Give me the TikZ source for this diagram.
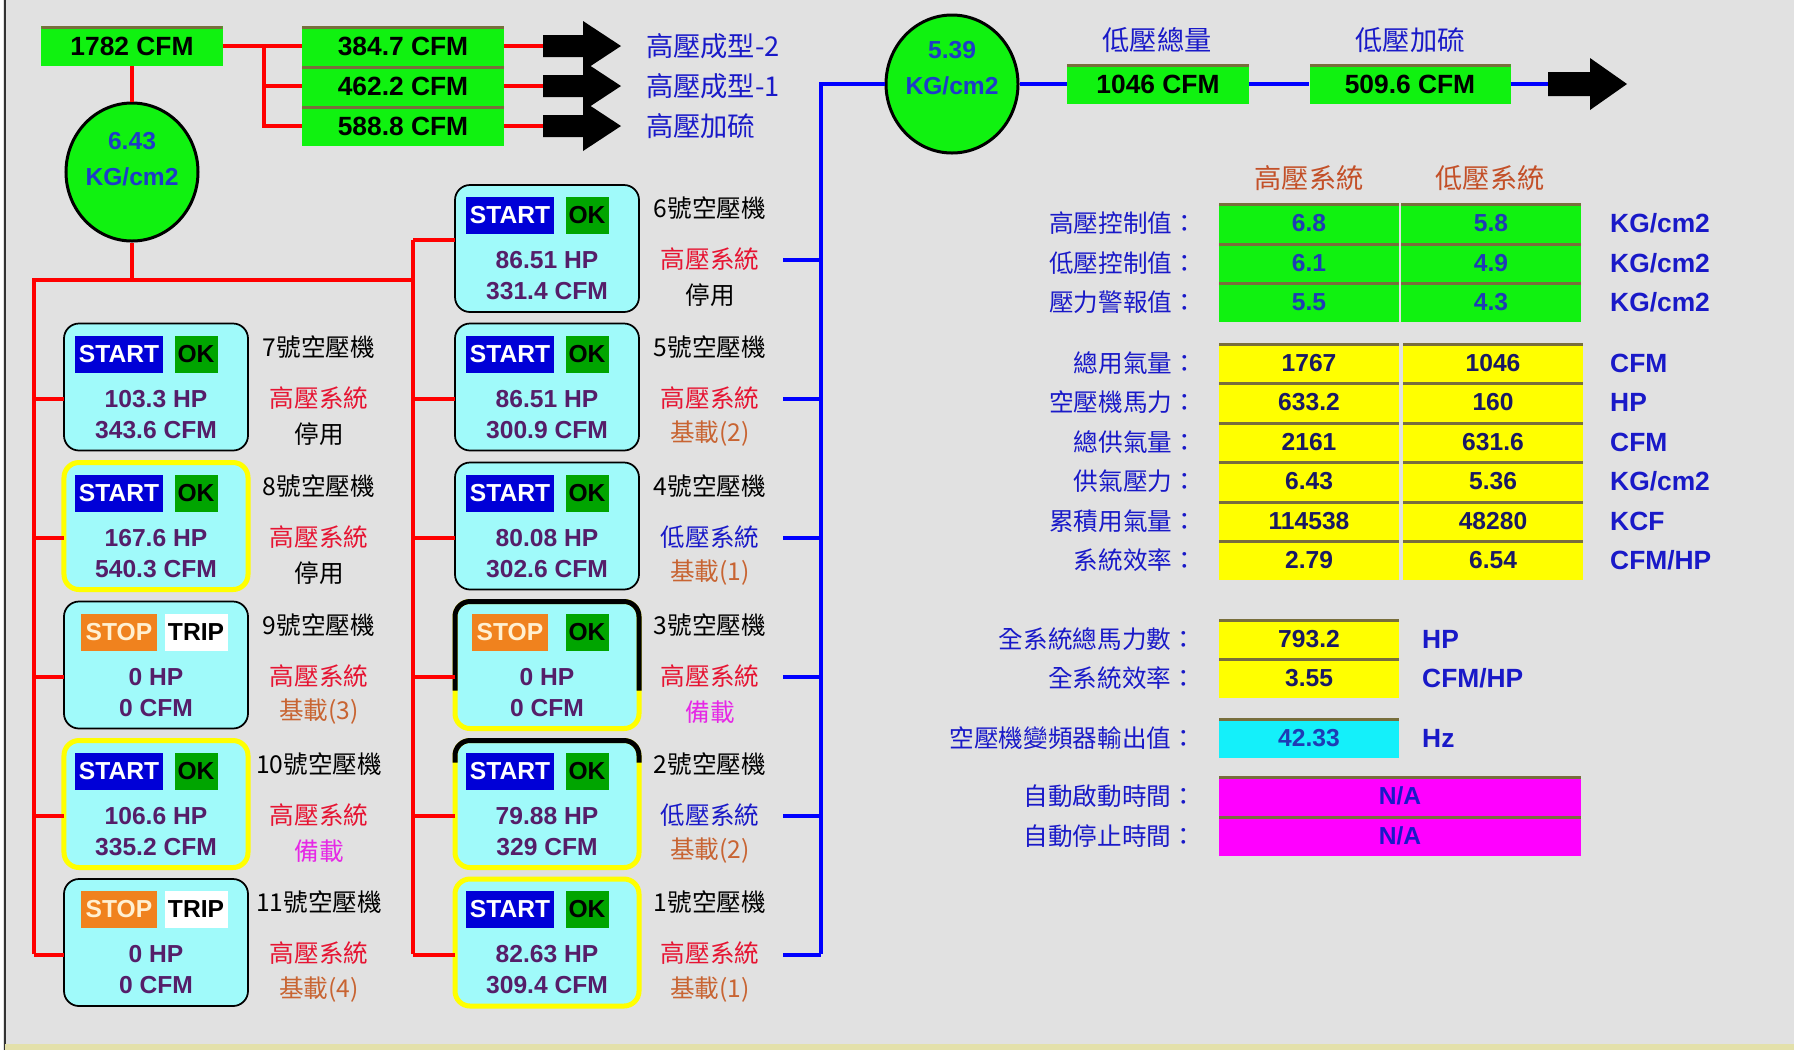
\documentclass[tikz,border=0pt]{standalone}
\usepackage{fontspec}
\setmainfont{Liberation Sans}
\newfontfamily\cjk{Noto Sans CJK TC}
\usetikzlibrary{shapes.geometric,calc}

\definecolor{panelgray}{RGB}{225,225,225}
\definecolor{litegreen}{RGB}{16,242,16}
\definecolor{cellyellow}{RGB}{255,255,0}
\definecolor{cellmagenta}{RGB}{255,0,255}
\definecolor{boxcyan}{RGB}{160,250,250}
\definecolor{cellcyan}{RGB}{20,240,250}
\definecolor{startblue}{RGB}{0,0,215}
\definecolor{okgreen}{RGB}{0,165,0}
\definecolor{stoporange}{RGB}{240,130,30}
\definecolor{stoptext}{RGB}{255,240,210}
\definecolor{valpurple}{RGB}{85,30,105}
\definecolor{txtblue}{RGB}{25,25,200}
\definecolor{gaugeblue}{RGB}{30,60,200}
\definecolor{hpred}{RGB}{230,20,50}
\definecolor{loadbrown}{RGB}{200,100,50}
\definecolor{hdrbrown}{RGB}{195,80,40}
\definecolor{standbymag}{RGB}{230,40,230}
\definecolor{cellnavy}{RGB}{25,25,100}
\definecolor{cellblue}{RGB}{30,60,180}
\definecolor{celledge}{RGB}{120,110,60}

\newcommand\numfont{\bfseries\fontsize{14}{20.5}\selectfont}
\newcommand\bignum{\bfseries\fontsize{15}{18}\selectfont}
\newcommand\cnfont{\cjk\fontsize{14}{16}\selectfont}
\newcommand\cnbig{\cjk\fontsize{15.5}{18}\selectfont}

\begin{document}
\begin{tikzpicture}[x=0.2mm, y=-0.2mm,
hpline/.style={red, line width=0.8mm},
lpline/.style={blue, line width=0.8mm},
edged/.style={path picture={\draw[celledge, line width=1mm] (path picture bounding box.north west) -- (path picture bounding box.north east);}},
flowbox/.style={fill=litegreen, edged, inner sep=0pt, minimum height=8mm, font=\bignum},
gauge/.style={ellipse, draw=black, line width=0.6mm, fill=litegreen, minimum width=26.4mm, minimum height=27.6mm, inner sep=0pt},
gaugetext/.style={align=center, text=gaugeblue, font=\numfont},
outlet/.style={anchor=west, text=txtblue, font=\cnbig},
comp/.style={draw=black, line width=0.35mm, fill=boxcyan, rounded corners=3mm, minimum width=36.8mm, minimum height=25.4mm, inner sep=0pt, outer sep=0pt},
comprun/.style={comp, draw=cellyellow, line width=1mm},
topedge/.style={black, line width=1mm, rounded corners=3mm},
btn/.style={inner sep=0pt, minimum height=7.4mm, font=\numfont},
startbtn/.style={btn, fill=startblue, text=white, minimum width=17.6mm},
stopbtn/.style={btn, fill=stoporange, text=stoptext, minimum width=15.2mm},
okbtn/.style={btn, fill=okgreen, minimum width=8.6mm},
tripbtn/.style={btn, fill=white, minimum width=12.6mm},
reading/.style={text=valpurple, font=\numfont},
compname/.style={font=\cnfont},
hpsys/.style={compname, text=hpred},
lpsys/.style={compname, text=txtblue},
baseload/.style={compname, text=loadbrown},
standby/.style={compname, text=standbymag},
colhead/.style={text=hdrbrown, font=\cnbig},
rowlab/.style={anchor=east, text=txtblue, font=\cnfont},
unitlab/.style={anchor=west, text=txtblue, font=\bignum},
cell/.style={edged, minimum width=36mm, minimum height=7.9mm, inner sep=0pt, font=\numfont},
gcell/.style={cell, fill=litegreen, text=cellblue},
ycell/.style={cell, fill=cellyellow, text=cellnavy},
ccell/.style={cell, fill=cellcyan, text=cellblue},
mcell/.style={cell, fill=cellmagenta, minimum width=72.4mm, text=txtblue}]
\useasboundingbox (0,0) rectangle (1794,1050);
\fill[panelgray] (0,0) rectangle (1794,1050);
\fill[white] (0,0) rectangle (3,1050);
\draw[gray!40!black, line width=0.5mm] (5,0) -- (5,1050);
\fill[olive!25!white] (5,1044) rectangle (1794,1050);

% high pressure header
\node[flowbox, minimum width=36.2mm] (total) at (132,46) {1782 CFM};
\node[flowbox, minimum width=40.4mm] (f2) at (403,46) {384.7 CFM};
\node[flowbox, minimum width=40.4mm] (f1) at (403,86) {462.2 CFM};
\node[flowbox, minimum width=40.4mm] (f3) at (403,126) {588.8 CFM};
\coordinate (a1) at (543,46);
\coordinate (a2) at (543,86);
\coordinate (a3) at (543,126);
\fill (a1) ++(0,-11) -- ++(40,0) -- ++(0,-14) -- ++(38,25) -- ++(-38,25) -- ++(0,-14) -- ++(-40,0) -- cycle;
\fill (a2) ++(0,-11) -- ++(40,0) -- ++(0,-14) -- ++(38,25) -- ++(-38,25) -- ++(0,-14) -- ++(-40,0) -- cycle;
\fill (a3) ++(0,-11) -- ++(40,0) -- ++(0,-14) -- ++(38,25) -- ++(-38,25) -- ++(0,-14) -- ++(-40,0) -- cycle;
\node[outlet] (o2) at (640,46) {高壓成型-2};
\node[outlet] (o1) at (640,86) {高壓成型-1};
\node[outlet] (o3) at (640,126) {高壓加硫};
\node[gauge] (g1) at (132,172) {};
\node[gaugetext] (g1t) at (132,159) {6.43\\KG/cm2};

% low pressure header
\node[gauge] (g2) at (952,84) {};
\node[gaugetext] (g2t) at (952,68) {5.39\\KG/cm2};
\node[flowbox, minimum width=36.4mm] (lp1) at (1158,84) {1046 CFM};
\node[flowbox, minimum width=40.2mm] (lp2) at (1410,84) {509.6 CFM};
\node[outlet, anchor=center] (lp1t) at (1157,40) {低壓總量};
\node[outlet, anchor=center] (lp2t) at (1410,40) {低壓加硫};
\coordinate (a4) at (1548,84);
\fill (a4) ++(0,-12) -- ++(42,0) -- ++(0,-14) -- ++(37,26) -- ++(-37,26) -- ++(0,-14) -- ++(-42,0) -- cycle;

% compressors, right column
\node[comp] (c6) at (547,248.5) {};
\node[startbtn] (c6s) at ($(c6)+(-37,-33)$) {START};
\node[okbtn] (c6k) at ($(c6)+(40,-33)$) {OK};
\node[reading] (c6p) at ($(c6)+(0,12)$) {86.51 HP};
\node[reading] (c6f) at ($(c6)+(0,43)$) {331.4 CFM};
\node[compname] (c6n) at ($(c6)+(163,-40)$) {6號空壓機};
\node[hpsys] (c6y) at ($(c6)+(163,11)$) {高壓系統};
\node[compname] (c6m) at ($(c6)+(163,47)$) {停用};

\node[comp] (c5) at (547,387) {};
\node[startbtn] (c5s) at ($(c5)+(-37,-33)$) {START};
\node[okbtn] (c5k) at ($(c5)+(40,-33)$) {OK};
\node[reading] (c5p) at ($(c5)+(0,12)$) {86.51 HP};
\node[reading] (c5f) at ($(c5)+(0,43)$) {300.9 CFM};
\node[compname] (c5n) at ($(c5)+(163,-40)$) {5號空壓機};
\node[hpsys] (c5y) at ($(c5)+(163,11)$) {高壓系統};
\node[baseload] (c5m) at ($(c5)+(163,47)$) {基載(2)};

\node[comp] (c4) at (547,526) {};
\node[startbtn] (c4s) at ($(c4)+(-37,-33)$) {START};
\node[okbtn] (c4k) at ($(c4)+(40,-33)$) {OK};
\node[reading] (c4p) at ($(c4)+(0,12)$) {80.08 HP};
\node[reading] (c4f) at ($(c4)+(0,43)$) {302.6 CFM};
\node[compname] (c4n) at ($(c4)+(163,-40)$) {4號空壓機};
\node[lpsys] (c4y) at ($(c4)+(163,11)$) {低壓系統};
\node[baseload] (c4m) at ($(c4)+(163,47)$) {基載(1)};

\node[comprun] (c3) at (547,665) {};
\draw[topedge] ($(c3.north west)+(0,89)$) |- (c3.north) -| ($(c3.north east)+(0,89)$);
\node[stopbtn] (c3s) at ($(c3)+(-37,-33)$) {STOP};
\node[okbtn] (c3k) at ($(c3)+(40,-33)$) {OK};
\node[reading] (c3p) at ($(c3)+(0,12)$) {0 HP};
\node[reading] (c3f) at ($(c3)+(0,43)$) {0 CFM};
\node[compname] (c3n) at ($(c3)+(163,-40)$) {3號空壓機};
\node[hpsys] (c3y) at ($(c3)+(163,11)$) {高壓系統};
\node[standby] (c3m) at ($(c3)+(163,47)$) {備載};

\node[comprun] (c2) at (547,804) {};
\draw[topedge] ($(c2.north west)+(0,22)$) |- (c2.north) -| ($(c2.north east)+(0,22)$);
\node[startbtn] (c2s) at ($(c2)+(-37,-33)$) {START};
\node[okbtn] (c2k) at ($(c2)+(40,-33)$) {OK};
\node[reading] (c2p) at ($(c2)+(0,12)$) {79.88 HP};
\node[reading] (c2f) at ($(c2)+(0,43)$) {329 CFM};
\node[compname] (c2n) at ($(c2)+(163,-40)$) {2號空壓機};
\node[lpsys] (c2y) at ($(c2)+(163,11)$) {低壓系統};
\node[baseload] (c2m) at ($(c2)+(163,47)$) {基載(2)};

\node[comprun] (c1) at (547,942.5) {};
\node[startbtn] (c1s) at ($(c1)+(-37,-33)$) {START};
\node[okbtn] (c1k) at ($(c1)+(40,-33)$) {OK};
\node[reading] (c1p) at ($(c1)+(0,12)$) {82.63 HP};
\node[reading] (c1f) at ($(c1)+(0,43)$) {309.4 CFM};
\node[compname] (c1n) at ($(c1)+(163,-40)$) {1號空壓機};
\node[hpsys] (c1y) at ($(c1)+(163,11)$) {高壓系統};
\node[baseload] (c1m) at ($(c1)+(163,47)$) {基載(1)};

% compressors, left column
\node[comp] (c7) at (156,387) {};
\node[startbtn] (c7s) at ($(c7)+(-37,-33)$) {START};
\node[okbtn] (c7k) at ($(c7)+(40,-33)$) {OK};
\node[reading] (c7p) at ($(c7)+(0,12)$) {103.3 HP};
\node[reading] (c7f) at ($(c7)+(0,43)$) {343.6 CFM};
\node[compname] (c7n) at ($(c7)+(163,-40)$) {7號空壓機};
\node[hpsys] (c7y) at ($(c7)+(163,11)$) {高壓系統};
\node[compname] (c7m) at ($(c7)+(163,47)$) {停用};

\node[comprun] (c8) at (156,526) {};
\node[startbtn] (c8s) at ($(c8)+(-37,-33)$) {START};
\node[okbtn] (c8k) at ($(c8)+(40,-33)$) {OK};
\node[reading] (c8p) at ($(c8)+(0,12)$) {167.6 HP};
\node[reading] (c8f) at ($(c8)+(0,43)$) {540.3 CFM};
\node[compname] (c8n) at ($(c8)+(163,-40)$) {8號空壓機};
\node[hpsys] (c8y) at ($(c8)+(163,11)$) {高壓系統};
\node[compname] (c8m) at ($(c8)+(163,47)$) {停用};

\node[comp] (c9) at (156,665) {};
\node[stopbtn] (c9s) at ($(c9)+(-37,-33)$) {STOP};
\node[tripbtn] (c9k) at ($(c9)+(40,-33)$) {TRIP};
\node[reading] (c9p) at ($(c9)+(0,12)$) {0 HP};
\node[reading] (c9f) at ($(c9)+(0,43)$) {0 CFM};
\node[compname] (c9n) at ($(c9)+(163,-40)$) {9號空壓機};
\node[hpsys] (c9y) at ($(c9)+(163,11)$) {高壓系統};
\node[baseload] (c9m) at ($(c9)+(163,47)$) {基載(3)};

\node[comprun] (c10) at (156,804) {};
\node[startbtn] (c10s) at ($(c10)+(-37,-33)$) {START};
\node[okbtn] (c10k) at ($(c10)+(40,-33)$) {OK};
\node[reading] (c10p) at ($(c10)+(0,12)$) {106.6 HP};
\node[reading] (c10f) at ($(c10)+(0,43)$) {335.2 CFM};
\node[compname] (c10n) at ($(c10)+(163,-40)$) {10號空壓機};
\node[hpsys] (c10y) at ($(c10)+(163,11)$) {高壓系統};
\node[standby] (c10m) at ($(c10)+(163,47)$) {備載};

\node[comp] (c11) at (156,942.5) {};
\node[stopbtn] (c11s) at ($(c11)+(-37,-33)$) {STOP};
\node[tripbtn] (c11k) at ($(c11)+(40,-33)$) {TRIP};
\node[reading] (c11p) at ($(c11)+(0,12)$) {0 HP};
\node[reading] (c11f) at ($(c11)+(0,43)$) {0 CFM};
\node[compname] (c11n) at ($(c11)+(163,-40)$) {11號空壓機};
\node[hpsys] (c11y) at ($(c11)+(163,11)$) {高壓系統};
\node[baseload] (c11m) at ($(c11)+(163,47)$) {基載(4)};

% red piping
\coordinate (hpj) at (264,46);
\coordinate (hpl) at (34,280);
\coordinate (hpr) at (413,280);
\coordinate (hpl11) at (34,954);
\coordinate (hpr6) at (413,240);
\coordinate (hpr1) at (413,954);
\draw[hpline] (total.east) -- (f2.west);
\draw[hpline] (hpj) |- (f1.west);
\draw[hpline] (hpj) |- (f3.west);
\draw[hpline] (f2.east) -- (a1);
\draw[hpline] (f1.east) -- (a2);
\draw[hpline] (f3.east) -- (a3);
\draw[hpline] (total.south) -- (g1.north);
\draw[hpline] (g1.south) -- (g1.south |- hpl);
\draw[hpline] (hpl11) -- (hpl) -- (hpr);
\draw[hpline] (hpr6) -- (hpr1);
\draw[hpline] (hpr6) -- (hpr6 -| c6.west);
\draw[hpline] (c5.west) ++(0,12) -- ++(-42,0);
\draw[hpline] (c4.west) ++(0,12) -- ++(-42,0);
\draw[hpline] (c3.west) ++(0,12) -- ++(-42,0);
\draw[hpline] (c2.west) ++(0,12) -- ++(-42,0);
\draw[hpline] (c1.west) ++(0,12) -- ++(-42,0);
\draw[hpline] (c7.west) ++(0,12) -- ++(-30,0);
\draw[hpline] (c8.west) ++(0,12) -- ++(-30,0);
\draw[hpline] (c9.west) ++(0,12) -- ++(-30,0);
\draw[hpline] (c10.west) ++(0,12) -- ++(-30,0);
\draw[hpline] (c11.west) ++(0,12) -- ++(-30,0);

% blue piping
\coordinate (lptop) at (821,84);
\coordinate (lpbot) at (821,954);
\draw[lpline] (lpbot) -- (lptop) -- (g2.west);
\draw[lpline] (g2.east) -- (lp1.west);
\draw[lpline] (lp1.east) -- (lp2.west);
\draw[lpline] (lp2.east) -- (a4);
\draw[lpline] (c6.east) ++(144,11) -- ++(38,0);
\draw[lpline] (c5.east) ++(144,12) -- ++(38,0);
\draw[lpline] (c4.east) ++(144,12) -- ++(38,0);
\draw[lpline] (c3.east) ++(144,12) -- ++(38,0);
\draw[lpline] (c2.east) ++(144,12) -- ++(38,0);
\draw[lpline] (c1.east) ++(144,12) -- ++(38,0);

% summary panel
\node[colhead] (hph) at (1309,178) {高壓系統};
\node[colhead] (lph) at (1490,178) {低壓系統};

\node[rowlab] (l1) at (1203,223) {高壓控制值：};
\node[gcell] (v11) at (1309,223) {6.8};
\node[gcell] (v12) at (1491,223) {5.8};
\node[unitlab] (u1) at (1604,223) {KG/cm2};
\node[rowlab] (l2) at (1203,263) {低壓控制值：};
\node[gcell] (v21) at (1309,263) {6.1};
\node[gcell] (v22) at (1491,263) {4.9};
\node[unitlab] (u2) at (1604,263) {KG/cm2};
\node[rowlab] (l3) at (1203,302) {壓力警報值：};
\node[gcell] (v31) at (1309,302) {5.5};
\node[gcell] (v32) at (1491,302) {4.3};
\node[unitlab] (u3) at (1604,302) {KG/cm2};

\node[rowlab] (l4) at (1203,363) {總用氣量：};
\node[ycell] (v41) at (1309,363) {1767};
\node[ycell] (v42) at (1493,363) {1046};
\node[unitlab] (u4) at (1604,363) {CFM};
\node[rowlab] (l5) at (1203,402) {空壓機馬力：};
\node[ycell] (v51) at (1309,402) {633.2};
\node[ycell] (v52) at (1493,402) {160};
\node[unitlab] (u5) at (1604,402) {HP};
\node[rowlab] (l6) at (1203,442) {總供氣量：};
\node[ycell] (v61) at (1309,442) {2161};
\node[ycell] (v62) at (1493,442) {631.6};
\node[unitlab] (u6) at (1604,442) {CFM};
\node[rowlab] (l7) at (1203,481) {供氣壓力：};
\node[ycell] (v71) at (1309,481) {6.43};
\node[ycell] (v72) at (1493,481) {5.36};
\node[unitlab] (u7) at (1604,481) {KG/cm2};
\node[rowlab] (l8) at (1203,521) {累積用氣量：};
\node[ycell] (v81) at (1309,521) {114538};
\node[ycell] (v82) at (1493,521) {48280};
\node[unitlab] (u8) at (1604,521) {KCF};
\node[rowlab] (l9) at (1203,560) {系統效率：};
\node[ycell] (v91) at (1309,560) {2.79};
\node[ycell] (v92) at (1493,560) {6.54};
\node[unitlab] (u9) at (1604,560) {CFM/HP};

\node[rowlab] (l10) at (1202,639) {全系統總馬力數：};
\node[ycell] (v10) at (1309,639) {793.2};
\node[unitlab] (u10) at (1416,639) {HP};
\node[rowlab] (l11) at (1202,678) {全系統效率：};
\node[ycell] (v11b) at (1309,678) {3.55};
\node[unitlab] (u11) at (1416,678) {CFM/HP};
\node[rowlab] (l12) at (1202,738) {空壓機變頻器輸出值：};
\node[ccell] (v12b) at (1309,738) {42.33};
\node[unitlab] (u12) at (1416,738) {Hz};
\node[rowlab] (l13) at (1202,796) {自動啟動時間：};
\node[mcell] (v13) at (1400,796) {N/A};
\node[rowlab] (l14) at (1202,836) {自動停止時間：};
\node[mcell] (v14) at (1400,836) {N/A};
\end{tikzpicture}
\end{document}
